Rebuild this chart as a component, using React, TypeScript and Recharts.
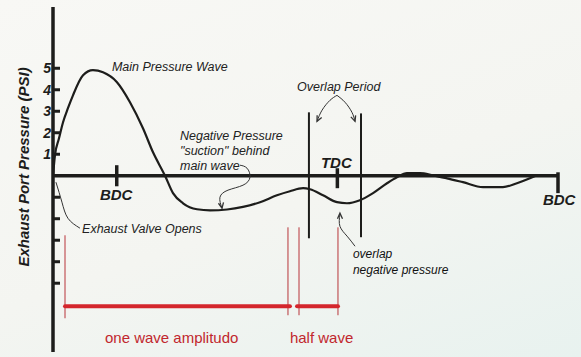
import { LineChart, Line, XAxis, YAxis, ReferenceLine, ReferenceDot, Label } from "recharts"

// crank angle (deg) vs exhaust port pressure (psi)
const crankDeg = [128, 129.6, 132.9, 136.2, 140.2, 144.3, 152.5, 160.6, 168.8, 180.2, 190.8, 201.4, 209.6, 219.4, 225.9, 234.1, 245.5, 256.1, 270, 283, 296.9, 310.7, 321.3, 332, 337.7, 348.3, 359.7, 367.8, 378.4, 389.1, 400.5, 408.6, 416.8, 427.4, 438, 449.4, 462.5, 478.8, 495.1, 506.5, 517.1, 522.8]
const pressure = [0, 0.95, 1.74, 2.49, 3.14, 3.74, 4.67, 4.91, 4.81, 4.35, 3.42, 2.21, 1.09, 0, -0.81, -1.28, -1.56, -1.61, -1.57, -1.45, -1.23, -0.91, -0.72, -0.58, -0.63, -0.91, -1.23, -1.28, -1.14, -0.81, -0.35, -0.07, 0.12, 0.12, 0.02, -0.12, -0.3, -0.53, -0.53, -0.35, -0.12, 0.02]

const pressureTicks = [-5, -4, -3, -2, -1, 1, 2, 3, 4, 5]

// piston position marks on the crank axis
const markLabels = ["BDC", "TDC", "BDC"]
const markDeg = [180, 360, 540]
const markTop = [0.49, 0.35, 0.16]
const markBottom = [-0.49, -0.58, -0.81]

// overlap period (valve overlap) boundaries
const overlapDeg = [336.8, 379.3]
const overlapTop = [2.95, 2.9]
const overlapBottom = [-2.91, -2.86]

// red wave length brackets
const bracketDeg = [137.8, 319.7, 328.7, 360.5]
const bracketTop = [-2.77, -2.4, -2.4, -2.4]
const bracketBottom = [-6.63, -6.49, -6.49, -6.49]
const spanFrom = [137.8, 327.1]
const spanTo = [321.3, 360.5]
const spanLevel = -6.07
const spanLabels = ["one wave amplitudo", "half wave"]
const spanLabelDeg = [170.4, 321.3]
const spanLabelPsi = -7.77

// annotation leaders, [deg, psi]
const leaders: number[][][] = [
  [[359.7, 3.74], [354, 3.51], [347.5, 3.05], [343.4, 2.53]],
  [[359.7, 3.74], [366.2, 3.42], [371.9, 2.95], [374.4, 2.53]],
  [[280.6, 0.49], [286.3, 0.35], [288.7, -0.07], [283, -0.44], [270.8, -0.67], [264.2, -1], [265.9, -1.51]],
  [[150, -2.44], [140.2, -1.98], [135.3, -1.23], [130.4, -0.3]],
  [[374.4, -3.28], [367.9, -2.81], [362.1, -2.35], [362.1, -1.79]],
]
const arrowHeads: number[][][] = [
  [[343.5, 2.81], [343.4, 2.53], [347.2, 2.71]],
  [[374.9, 2.81], [374.4, 2.53], [371, 2.74]],
  [[267.1, -1.24], [265.9, -1.51], [263, -1.28]],
  [[360.1, -2], [362.1, -1.74], [364.2, -2]],
]

const noteText = [
  ["Main Pressure Wave"],
  ["Negative Pressure", "\"suction\" behind", "main wave"],
  ["Overlap Period"],
  ["Exhaust Valve Opens"],
]
const noteDeg = [176.1, 231.6, 327.1, 151.7]
const notePsi = [4.88, 1.67, 3.95, -2.65]

const markLabelDeg = [166.3, 346.6, 527.7]
const markLabelPsi = [-1.12, 0.37, -1.35]

const FONT = '"Liberation Sans", Arial, Helvetica, sans-serif'
const INK = "#1d1d1b"
const RED = "#d4262c"

const chartData = crankDeg.map((x, i) => ({ x, y: pressure[i] }))
const toPts = (pts: number[][]) => pts.map(([x, y]) => ({ x, y }))

const textDot = (key: string, x: number, y: number, lines: string[], style: any, lh = 15.3) => (
  <ReferenceDot
    key={key}
    x={x}
    y={y}
    r={0}
    ifOverflow="visible"
    shape={(p: any) => (
      <text x={p.cx} y={p.cy} style={{ fontFamily: FONT, ...style }}>
        {lines.map((l, i) => (
          <tspan key={i} x={p.cx} dy={i === 0 ? 0 : lh}>{l}</tspan>
        ))}
      </text>
    )}
  />
)

const renderTick = ({ x, y, payload }: any) => {
  if (payload.value <= 0) return <g />
  return (
    <text x={x} y={y} dy={5} textAnchor="end" style={{ fontFamily: FONT, fontSize: 14, fontWeight: 700, fontStyle: "italic", fill: INK }}>
      {payload.value}
    </text>
  )
}

export default function App() {
  return (
    <div style={{ position: "absolute", left: 0, top: 0, width: 581, height: 357, background: "linear-gradient(160deg, #f8f8f5 0%, #f4f5f1 55%, #e8f2ef 100%)" }}>
      <LineChart width={581} height={357} data={chartData} margin={{ top: 7, right: 23, bottom: 5, left: 0 }}>
        <XAxis type="number" dataKey="x" domain={[128, 540]} hide allowDataOverflow />
        <YAxis
          type="number"
          domain={[-8.2, 7.85]}
          ticks={pressureTicks}
          interval={0}
          allowDataOverflow
          width={53}
          axisLine={{ stroke: INK, strokeWidth: 3.5 }}
          tickLine={{ stroke: INK, strokeWidth: 3 }}
          tickSize={-7}
          tickMargin={9}
          tick={renderTick}
        >
          <Label
            content={() => (
              <text
                x={23}
                y={167}
                transform="rotate(-90, 23, 167)"
                textAnchor="middle"
                dominantBaseline="central"
                style={{ fontFamily: FONT, fontSize: 15, fontWeight: 700, fontStyle: "italic", fill: INK }}
              >
                Exhaust Port Pressure (PSI)
              </text>
            )}
          />
        </YAxis>

        <ReferenceLine y={0} stroke={INK} strokeWidth={3.5} />

        {markDeg.map((d, i) => (
          <ReferenceLine key={`m${i}`} segment={[{ x: d, y: markTop[i] }, { x: d, y: markBottom[i] }]} stroke={INK} strokeWidth={3.5} ifOverflow="visible" />
        ))}

        {overlapDeg.map((d, i) => (
          <ReferenceLine key={`o${i}`} segment={[{ x: d, y: overlapTop[i] }, { x: d, y: overlapBottom[i] }]} stroke={INK} strokeWidth={2} />
        ))}

        {bracketDeg.map((d, i) => (
          <ReferenceLine key={`b${i}`} segment={[{ x: d, y: bracketTop[i] }, { x: d, y: bracketBottom[i] }]} stroke="#b8353a" strokeWidth={1} />
        ))}
        {spanFrom.map((d, i) => (
          <ReferenceLine key={`s${i}`} segment={[{ x: d, y: spanLevel }, { x: spanTo[i], y: spanLevel }]} stroke={RED} strokeWidth={4} strokeLinecap="round" />
        ))}

        {leaders.map((pts, i) => (
          <Line key={`l${i}`} data={toPts(pts)} dataKey="y" type="natural" stroke="#333" strokeWidth={1} dot={false} activeDot={false} isAnimationActive={false} />
        ))}
        {arrowHeads.map((pts, i) => (
          <Line key={`a${i}`} data={toPts(pts)} dataKey="y" type="linear" stroke="#333" strokeWidth={1.3} dot={false} activeDot={false} isAnimationActive={false} />
        ))}

        <Line dataKey="y" type="monotone" stroke={INK} strokeWidth={2.2} dot={false} activeDot={false} isAnimationActive={false} />

        {noteText.map((lines, i) =>
          textDot(`n${i}`, noteDeg[i], notePsi[i], lines, { fontSize: 12.5, fontStyle: "italic", fill: "#222" })
        )}
        {textDot("ov", 372.7, -3.81, ["overlap", "negative pressure"], { fontSize: 12, fontStyle: "italic", fill: "#111" }, 16)}
        {markLabels.map((t, i) =>
          textDot(`ml${i}`, markLabelDeg[i], markLabelPsi[i], [t], { fontSize: 15, fontWeight: 700, fontStyle: "italic", fill: INK })
        )}
        {spanLabels.map((t, i) =>
          textDot(`sl${i}`, spanLabelDeg[i], spanLabelPsi, [t], { fontSize: 15, fill: "#c1272d" })
        )}
      </LineChart>
    </div>
  )
}
